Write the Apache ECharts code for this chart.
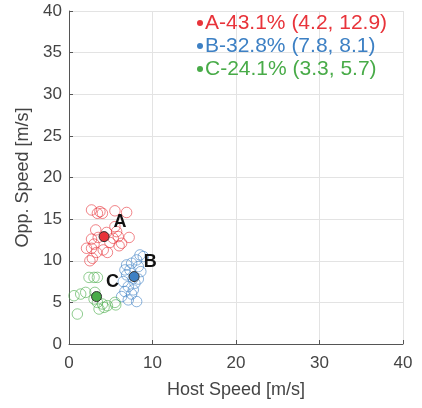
<!DOCTYPE html>
<html>
<head>
<meta charset="utf-8">
<script src="https://cdn.jsdelivr.net/npm/echarts@6/dist/echarts.min.js"></script>
<style>
  html, body { margin: 0; padding: 0; background: #fff; }
  #chart { width: 422px; height: 408px; }
</style>
</head>
<body>
<div id="chart"></div>
<script>
// Cluster labels, shares and centroids
const clusterNames = ['A', 'B', 'C'];
const clusterShares = [43.1, 32.8, 24.1];
const centroidX = [4.2, 7.8, 3.3];
const centroidY = [12.9, 8.1, 5.7];
const clusterColors = ['#e8333a', '#3d80c4', '#48ab48'];

// Individual samples per cluster: [host speed, opponent speed]
const samplesA = [
  [2.7, 16.1], [3.4, 15.7], [3.7, 15.9], [4.0, 15.7], [5.5, 16.0], [6.9, 15.8],
  [3.2, 13.7], [5.5, 14.1], [5.7, 13.5], [4.5, 13.4], [7.2, 12.8],
  [2.1, 11.5], [2.7, 11.5], [2.8, 10.3], [3.3, 11.0], [4.1, 11.3], [2.5, 10.0],
  [5.3, 12.7], [5.9, 12.9], [6.3, 12.1], [4.9, 12.2], [3.5, 12.8], [2.7, 12.6],
  [4.6, 11.0], [6.0, 11.8], [3.0, 12.0]
];
const samplesB = [
  [8.5, 10.7], [8.9, 10.5], [8.1, 10.1], [7.5, 9.7], [6.9, 9.5], [8.3, 9.3],
  [6.7, 8.9], [7.3, 8.9], [8.6, 8.7], [6.9, 8.3], [7.9, 7.3], [6.5, 7.5],
  [7.1, 6.9], [6.7, 6.3], [7.7, 6.5], [7.1, 5.3], [8.1, 5.1], [6.3, 5.7],
  [7.5, 6.0], [8.3, 7.8], [7.7, 7.9]
];
const samplesC = [
  [2.4, 8.0], [3.0, 8.0], [3.4, 8.0], [0.6, 5.8], [1.4, 6.0], [2.0, 6.2],
  [3.1, 6.2], [3.4, 5.0], [4.0, 4.8], [3.6, 4.2], [4.6, 4.6], [5.5, 5.0],
  [5.6, 4.7], [1.0, 3.6], [4.2, 4.4], [3.0, 5.4]
];
const samples = [samplesA, samplesB, samplesC];

// Axis ranges and tick steps
const xMin = 0, xMax = 40, xStep = 10;
const yMin = 0, yMax = 40, yStep = 5;

const FONT = 'Liberation Sans, Arial, sans-serif';

const legendNames = clusterNames.map((n, i) =>
  `${n}-${clusterShares[i].toFixed(1)}% (${centroidX[i].toFixed(1)}, ${centroidY[i].toFixed(1)})`);

const hexA = (hex, a) => {
  const v = parseInt(hex.slice(1), 16);
  return `rgba(${(v >> 16) & 255},${(v >> 8) & 255},${v & 255},${a})`;
};

const series = [];
samples.forEach((pts, i) => {
  series.push({
    type: 'scatter',
    name: 'pts' + i,
    data: pts,
    symbol: 'circle',
    symbolSize: 10.5,
    itemStyle: { color: 'rgba(0,0,0,0)', borderColor: hexA(clusterColors[i], 0.75), borderWidth: 1 },
    z: 2,
    silent: true
  });
});
clusterNames.forEach((n, i) => {
  series.push({
    type: 'scatter',
    name: legendNames[i],
    data: [[centroidX[i], centroidY[i]]],
    symbol: 'circle',
    symbolSize: 10,
    itemStyle: { color: clusterColors[i], borderColor: '#333', borderWidth: 1, opacity: 1 },
    label: {
      show: true,
      formatter: n,
      position: 'inside',
      offset: [16, -15],
      color: '#111',
      fontSize: 18,
      fontWeight: 'bold',
      fontFamily: FONT
    },
    z: 5
  });
});

const axisCommon = {
  axisLine: { show: true, onZero: false, lineStyle: { color: '#555', width: 1 } },
  axisTick: { show: true, inside: true, length: 4, lineStyle: { color: '#555' } },
  axisLabel: { color: '#444', fontSize: 17, fontFamily: FONT },
  splitLine: { show: true, lineStyle: { color: '#e3e3e3', width: 1 } },
  nameLocation: 'middle',
  nameTextStyle: { color: '#444', fontSize: 18, fontFamily: FONT }
};

const chart = echarts.init(document.getElementById('chart'), null, { renderer: 'canvas' });
chart.setOption({
  animation: false,
  backgroundColor: '#fff',
  grid: { left: 69, right: 19, top: 11, bottom: 64, containLabel: false },
  xAxis: Object.assign({}, axisCommon, {
    type: 'value', min: xMin, max: xMax, interval: xStep,
    name: 'Host Speed [m/s]', nameGap: 37,
    axisLabel: Object.assign({}, axisCommon.axisLabel, { margin: 11 })
  }),
  yAxis: Object.assign({}, axisCommon, {
    type: 'value', min: yMin, max: yMax, interval: yStep,
    name: 'Opp. Speed [m/s]', nameGap: 37,
    axisLabel: Object.assign({}, axisCommon.axisLabel, { margin: 7 })
  }),
  legend: {
    orient: 'vertical',
    left: 192,
    top: 7,
    itemGap: 1,
    itemWidth: 6,
    itemHeight: 6,
    icon: 'circle',
    selectedMode: false,
    data: legendNames.map((name, i) => ({
      name,
      itemStyle: { color: clusterColors[i], borderWidth: 0 },
      textStyle: { color: clusterColors[i], fontSize: 21, lineHeight: 22, fontFamily: FONT, padding: [0, 0, 0, -3] }
    }))
  },
  series
});
</script>
</body>
</html>
